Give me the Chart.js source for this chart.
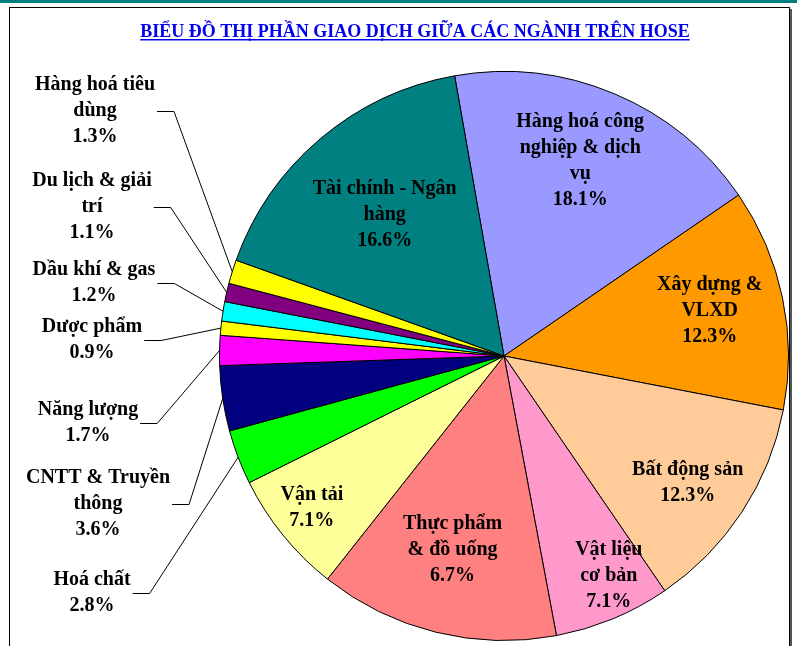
<!DOCTYPE html>
<html>
<head>
<meta charset="utf-8">
<script src="https://cdn.jsdelivr.net/npm/chart.js@4/dist/chart.umd.min.js"></script>
<style>
  html, body { margin: 0; padding: 0; background: #fff; }
</style>
</head>
<body>
<canvas id="canvas" width="797" height="646"></canvas>
<script>
// Sectors in drawing order, clockwise, starting just left of 12 o'clock.
// Each name is already split into the lines shown in the picture.
var categories = [
  ['Hàng hoá công', 'nghiệp & dịch', 'vụ'],
  ['Xây dựng &', 'VLXD'],
  ['Bất động sản'],
  ['Vật liệu', 'cơ bản'],
  ['Thực phẩm', '& đồ uống'],
  ['Vận tải'],
  ['Hoá chất'],
  ['CNTT & Truyền', 'thông'],
  ['Năng lượng'],
  ['Dược phẩm'],
  ['Dầu khí & gas'],
  ['Du lịch & giải', 'trí'],
  ['Hàng hoá tiêu', 'dùng'],
  ['Tài chính - Ngân', 'hàng']
]

var sliceShares = [18.2, 12.6, 12.4, 6.6, 13.6, 7.0, 3.1, 3.7, 1.7, 0.8, 1.1, 1.05, 1.35, 16.75]

// percentages printed in the labels
var percentLabels = ['18.1%', '12.3%', '12.3%', '7.1%', '6.7%', '7.1%', '2.8%', '3.6%', '1.7%', '0.9%', '1.2%', '1.1%', '1.3%', '16.6%']

var sliceColors = ['#9999FF', '#FF9900', '#FFCC99', '#FF99CC', '#FF8080', '#FFFF99', '#00FF00',
                   '#000080', '#FF00FF', '#FFFF00', '#00FFFF', '#800080', '#FFFF00', '#008080']

var titleText = 'BIỂU ĐỒ THỊ PHẦN GIAO DỊCH GIỮA CÁC NGÀNH TRÊN HOSE'

var labelFont = 'bold 20px "Liberation Serif", "Times New Roman", serif'
var lineHeight = 26

// label placement: inside labels sit on the slice's mid angle (plus a small tweak, degrees)
// at a fraction of the radius; outside ones are stacked in a column on the left with a leader line
var labelPlacement = [
  { inside: true, frac: 0.735, turn: -1.4 },
  { inside: true, frac: 0.74, turn: -0.5 },
  { inside: true, frac: 0.785, turn: 1.4 },
  { inside: true, frac: 0.855, turn: -3 },
  { inside: true, frac: 0.705, turn: 1 },
  { inside: true, frac: 0.86, turn: 0.8 },
  { inside: false, x: 92, y: 593 },
  { inside: false, x: 98, y: 504 },
  { inside: false, x: 88, y: 423 },
  { inside: false, x: 92, y: 340 },
  { inside: false, x: 94, y: 283 },
  { inside: false, x: 92, y: 207 },
  { inside: false, x: 95, y: 111 },
  { inside: true, frac: 0.65, turn: 0 }
]

// frame, top rule and the underlined title
var framePlugin = {
  id: 'frame',
  beforeDraw: function (chart) {
    var ctx = chart.ctx
    ctx.save()
    ctx.fillStyle = '#fff'
    ctx.fillRect(0, 0, chart.width, chart.height)

    ctx.fillStyle = '#007F7F'
    ctx.fillRect(0, 0, chart.width, 3)

    // shadow then border
    ctx.fillStyle = '#555'
    ctx.fillRect(790, 9, 2, chart.height)
    ctx.strokeStyle = '#000'
    ctx.lineWidth = 1
    ctx.strokeRect(9.5, 7.5, 780, chart.height + 20)

    ctx.font = 'bold 18px "Liberation Serif", "Times New Roman", serif'
    ctx.fillStyle = '#0000EE'
    ctx.textAlign = 'center'
    ctx.textBaseline = 'alphabetic'
    var w = ctx.measureText(titleText).width
    ctx.fillText(titleText, 415, 37)
    ctx.fillRect(415 - w / 2, 39, w, 1.5)
    ctx.restore()
  }
}

// text labels for every slice
var labelPlugin = {
  id: 'sliceLabels',
  afterDatasetsDraw: function (chart) {
    var ctx = chart.ctx
    var arcs = chart.getDatasetMeta(0).data
    ctx.save()
    ctx.font = labelFont
    ctx.fillStyle = '#000'
    ctx.textAlign = 'center'
    ctx.textBaseline = 'middle'

    arcs.forEach(function (arc, i) {
      var p = arc.getProps(['x', 'y', 'startAngle', 'endAngle', 'outerRadius'], true)
      var mid = (p.startAngle + p.endAngle) / 2
      var lines = categories[i].concat([percentLabels[i]])
      var place = labelPlacement[i]
      var cx, cy

      if (place.inside) {
        var a = mid + place.turn * Math.PI / 180
        cx = p.x + place.frac * p.outerRadius * Math.cos(a)
        cy = p.y + place.frac * p.outerRadius * Math.sin(a)
      } else {
        cx = place.x
        cy = place.y
        // leader line: from the label box's right side to the rim at mid angle
        var widest = 0
        lines.forEach(function (t) { widest = Math.max(widest, ctx.measureText(t).width) })
        var boxRight = cx + widest / 2 + 2
        ctx.beginPath()
        ctx.strokeStyle = '#000'
        ctx.lineWidth = 1
        ctx.moveTo(boxRight, cy + 0.5)
        ctx.lineTo(boxRight + 17, cy + 0.5)
        ctx.lineTo(p.x + p.outerRadius * Math.cos(mid), p.y + p.outerRadius * Math.sin(mid))
        ctx.stroke()
      }

      var top = cy - (lines.length - 1) * lineHeight / 2
      lines.forEach(function (t, k) {
        ctx.fillText(t, cx, top + k * lineHeight)
      })
    })
    ctx.restore()
  }
}

var canvas = document.getElementById('canvas').getContext('2d')

var config = {
  type: 'pie',
  data: {
    labels: categories.map(function (c) { return c.join(' ') }),
    datasets: [{
      data: sliceShares,
      backgroundColor: sliceColors,
      borderColor: '#000',
      borderWidth: 1
    }]
  },
  options: {
    responsive: false,
    animation: false,
    rotation: -10,
    layout: { padding: { left: 219, top: 71, right: 8, bottom: 5 } },
    plugins: {
      legend: { display: false },
      tooltip: { enabled: false }
    }
  },
  plugins: [framePlugin, labelPlugin]
}

var myChart = new Chart(canvas, config)
</script>
</body>
</html>
